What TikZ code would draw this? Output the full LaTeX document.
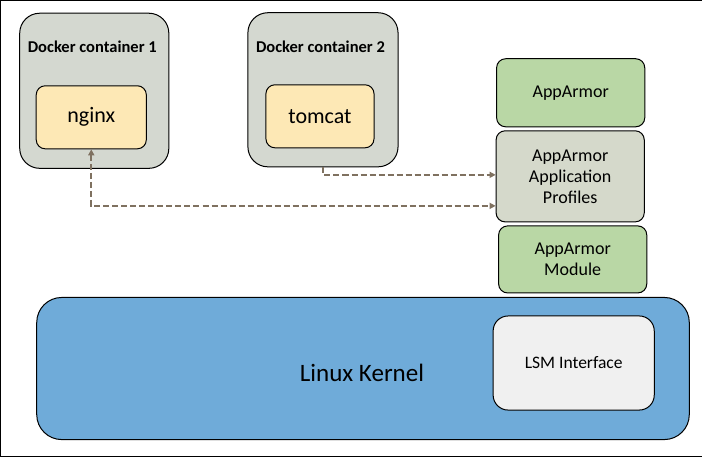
\documentclass[tikz,border=0pt]{standalone}
\usepackage{fontspec}
\setmainfont{Carlito}
\usepackage{xcolor}
\usetikzlibrary{positioning,shapes,arrows.meta}

\definecolor{boxgray}{HTML}{D4D8D0}
\definecolor{appyellow}{HTML}{FDE8B5}
\definecolor{armorgreen}{HTML}{B9D7A5}
\definecolor{profgray}{HTML}{D5D9CB}
\definecolor{kernblue}{HTML}{6FABD9}
\definecolor{lsmgray}{HTML}{F0F0F0}
\definecolor{flowbrown}{HTML}{7F7160}

\begin{document}
\begin{tikzpicture}[x=1pt, y=-1pt,
  nodes={draw, line width=1pt, rounded corners=9pt, inner sep=0pt, align=center},
  container/.style={fill=boxgray, rounded corners=20pt},
  app/.style={fill=appyellow, font=\fontsize{22}{24}\selectfont},
  armor/.style={fill=armorgreen, minimum width=148pt, font=\fontsize{18}{21}\selectfont},
  flow/.style={draw=flowbrown, line width=2.3pt, dash pattern=on 6pt off 3pt,
               -{Triangle[length=6pt,width=6pt]}}]
  % frame
  \draw[thin] (0.5,0.5) rectangle (701.5,456.5);
  % docker containers
  \node[container, minimum width=149pt, minimum height=155pt] (dc1) at (94.5,91) {};
  \node[draw=none, font=\bfseries\fontsize{16.5}{18}\selectfont] (dc1label) at (92.5,47) {Docker container 1};
  \node[app, minimum width=110pt, minimum height=63pt] (nginx) at (91.5,117.5) {nginx};
  \node[container, minimum width=150pt, minimum height=154pt] (dc2) at (323,90) {};
  \node[draw=none, font=\bfseries\fontsize{16.5}{18}\selectfont] (dc2label) at (320.5,47) {Docker container 2};
  \node[app, minimum width=108pt, minimum height=63pt] (tomcat) at (320,116.5) {tomcat};
  % apparmor stack
  \node[armor, minimum height=68pt] (armor) at (570.5,93) {AppArmor};
  \node[armor, fill=profgray, minimum height=91pt] (profiles) at (570,176.5) {AppArmor\\Application\\Profiles};
  \node[armor, minimum height=67pt] (module) at (572.5,259.5) {AppArmor\\Module};
  % kernel
  \node[fill=kernblue, rounded corners=25pt, minimum width=652pt, minimum height=142pt] (kernel) at (363,368.5) {};
  \node[draw=none, font=\fontsize{25}{28}\selectfont] (kernlabel) at (362,373) {Linux Kernel};
  \node[fill=lsmgray, rounded corners=15pt, minimum width=161pt, minimum height=94pt,
        font=\fontsize{17.5}{19}\selectfont] (lsm) at (573.5,363) {LSM Interface};
  % flows
  \draw[flow, {Triangle[length=6pt,width=6pt]}-{Triangle[length=6pt,width=6pt]}]
    (nginx.south) |- ([yshift=-29.5pt]profiles.west);
  \draw[flow] (dc2.south) |- ([yshift=1.5pt]profiles.west);
\end{tikzpicture}
\end{document}
